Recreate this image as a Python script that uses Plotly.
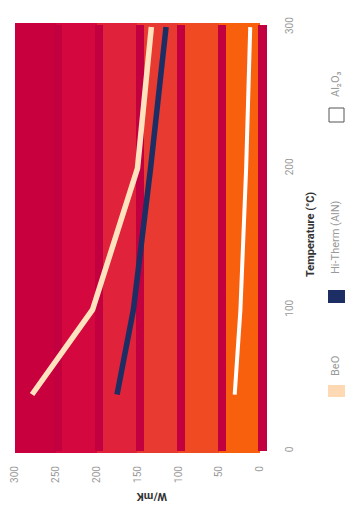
import plotly.graph_objects as go

# ---- data ----
band_lo = [0, 50, 100, 150, 200, 250]
band_colors = ["#F8600E", "#F04A22", "#E83A30", "#E0223A", "#D4083E", "#C8003E"]
edge_color = "#C2003F"

temp = [40, 100, 200, 300]
beo = [279, 205, 150, 133]
aln = [175, 155, 134, 115]
al2o3 = [31, 24, 17, 12]

x_ticks = [0, 50, 100, 150, 200, 250, 300]
y_ticks = [0, 100, 200, 300]

band_base = -1.5
band_top = 303

fig = go.Figure()

# background bands
fig.add_trace(go.Bar(
    x=[b + 25 for b in band_lo], y=[band_top - band_base] * len(band_lo), base=band_base,
    width=50, marker=dict(color=band_colors, line=dict(width=0)),
    showlegend=False, hoverinfo="skip"))
# darker 3D edges
fig.add_trace(go.Bar(
    x=[b - 3 for b in band_lo], y=[band_top - band_base - 3] * len(band_lo), base=band_base + 1.5,
    width=10, marker=dict(color=edge_color, line=dict(width=0)),
    showlegend=False, hoverinfo="skip"))

fig.add_trace(go.Scatter(x=beo, y=temp, mode="lines", line=dict(color="#FFE3BE", width=5.5),
                         name="BeO", showlegend=False))
fig.add_trace(go.Scatter(x=aln, y=temp, mode="lines", line=dict(color="#1C2E63", width=5.5),
                         name="Hi-Therm (AlN)", showlegend=False))
fig.add_trace(go.Scatter(x=al2o3, y=temp, mode="lines", line=dict(color="#FFFFFF", width=4),
                         name="Al₂O₃", showlegend=False))

W, H = 346, 506
L, R, T, B = 10, 76, 20, 51
fig.update_layout(
    width=W, height=H, margin=dict(l=L, r=R, t=T, b=B),
    paper_bgcolor="white", plot_bgcolor="white",
    barmode="overlay", bargap=0,
    font=dict(family="Roboto, Arial, sans-serif", color="#999999", size=10),
    xaxis=dict(range=[306, -12.2], tickvals=x_ticks, tickangle=-90, showgrid=False,
               zeroline=False, showline=False, ticks="", ticklabelstandoff=8,
               tickfont=dict(size=10, color="#9a9a9a")),
    yaxis=dict(range=[-2.8, 305], tickvals=y_ticks, tickangle=-90, side="right",
               showgrid=False, zeroline=False, showline=False, ticks="",
               ticklabelstandoff=12, tickfont=dict(size=10, color="#9a9a9a")),
)

pw, ph = W - L - R, H - T - B

def ax(xp):
    return (xp - L) / pw

def ay(yp):
    return 1 - (yp - T) / ph

annos = [
    dict(text="<b>Temperature (°C)</b>", x=ax(311), y=ay(235), textangle=-90,
         font=dict(size=11, color="#333333")),
    dict(text="BeO", x=ax(335), y=ay(366), textangle=-90, font=dict(size=11, color="#999999")),
    dict(text="Hi-Therm (AlN)", x=ax(335), y=ay(237), textangle=-90, font=dict(size=11, color="#999999")),
    dict(text="Al₂O₃", x=ax(335), y=ay(84), textangle=-90, font=dict(size=11, color="#999999")),
    dict(text="<b>W/mK</b>", x=ax(152), y=ay(497), textangle=180, font=dict(size=11, color="#333333")),
]
for a in annos:
    a.update(xref="paper", yref="paper", showarrow=False, xanchor="center", yanchor="middle")
fig.update_layout(annotations=annos)

def rect(x0, y0, x1, y1, fill, line=None):
    return dict(type="rect", xref="paper", yref="paper",
                x0=ax(x0), x1=ax(x1), y0=ay(y1), y1=ay(y0),
                fillcolor=fill, line=dict(width=1 if line else 0, color=line or fill))

fig.update_layout(shapes=[
    rect(328, 385, 345, 397, "#FFD9B3"),
    rect(328, 290, 345, 303, "#1C2E63"),
    rect(329, 108, 344, 122, "white", "#555555"),
])

fig.write_html("out.html")
